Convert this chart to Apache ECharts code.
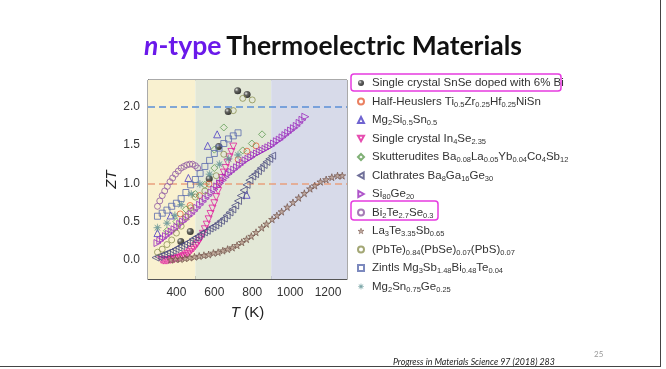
<!DOCTYPE html>
<html><head><meta charset="utf-8">
<script src="https://cdn.jsdelivr.net/npm/echarts@6/dist/echarts.min.js"></script>
<style>html,body{margin:0;padding:0;background:#fff}#c{width:666px;height:369px}</style>
</head><body><div id="c"></div>
<script>
// ---- data: [T (K), ZT] ----
const snseBi = [[423,0.24],[473,0.37],[573,1.06],[623,1.48],[673,1.94],[723,2.21],[773,2.16]];
const halfHeusler = [[420,0.6],[472,0.71],[522,0.84],[572,0.99],[726,1.31],[772,1.42],[820,1.49]];
const mg2si = [[300,0.35],[370,0.58],[463,1.07],[565,1.49],[615,1.64],[770,0.85]];
const in4se = [[320,0.0],[330,-0.01],[340,-0.01],[350,-0.01],[360,0.0],[370,0.0],[380,0.01],[390,0.01],[400,0.02],[410,0.02],[420,0.03],[430,0.04],[440,0.05],[450,0.07],[460,0.08],[470,0.1],[480,0.13],[490,0.15],[500,0.18],[510,0.21],[520,0.25],[530,0.29],[540,0.34],[550,0.4],[560,0.46],[570,0.53],[580,0.6],[590,0.67],[600,0.74],[610,0.82],[620,0.9],[630,0.99],[640,1.07],[650,1.14],[660,1.2],[670,1.27],[680,1.34],[690,1.41],[700,1.48]];
const skutterudite = [[350,0.38],[400,0.5],[450,0.66],[500,0.86],[550,0.98],[600,1.2],[600,1.44],[650,1.73],[750,1.43],[798,1.52],[852,1.64]];
const clathrate = [[290,0.03],[305,0.04],[320,0.06],[335,0.07],[350,0.09],[365,0.1],[380,0.12],[395,0.14],[410,0.16],[425,0.18],[440,0.2],[455,0.22],[470,0.24],[485,0.27],[500,0.29],[515,0.31],[530,0.34],[545,0.36],[560,0.38],[575,0.41],[590,0.43],[605,0.45],[620,0.48],[635,0.51],[650,0.54],[665,0.58],[680,0.62],[695,0.66],[710,0.71],[725,0.77],[740,0.84],[755,0.91],[770,0.98],[785,1.04],[800,1.09],[815,1.12],[830,1.16],[845,1.2],[860,1.24],[875,1.28],[890,1.32],[905,1.36]];
const siGe = [[300,0.22],[315,0.25],[330,0.28],[345,0.31],[360,0.34],[375,0.37],[390,0.4],[405,0.43],[420,0.47],[435,0.5],[450,0.53],[465,0.57],[480,0.6],[495,0.64],[510,0.68],[525,0.72],[540,0.76],[555,0.8],[570,0.84],[585,0.88],[600,0.92],[615,0.96],[630,1.0],[645,1.04],[660,1.08],[675,1.12],[690,1.15],[705,1.18],[720,1.21],[735,1.24],[750,1.27],[765,1.3],[780,1.32],[795,1.34],[810,1.37],[825,1.39],[840,1.41],[855,1.43],[870,1.45],[885,1.47],[900,1.49],[915,1.52],[930,1.55],[945,1.57],[960,1.6],[975,1.63],[990,1.66],[1005,1.69],[1020,1.72],[1035,1.75],[1050,1.79],[1065,1.83],[1080,1.87]];
const bi2te = [[300,0.7],[312,0.77],[325,0.84],[338,0.9],[352,0.96],[366,1.02],[380,1.07],[395,1.12],[410,1.16],[425,1.2],[440,1.22],[455,1.24],[470,1.25],[485,1.25],[500,1.23],[512,1.2]];
const la3te = [[370,0.0],[395,0.01],[420,0.01],[445,0.02],[470,0.03],[495,0.04],[520,0.05],[545,0.06],[570,0.07],[595,0.09],[620,0.1],[645,0.12],[670,0.14],[695,0.16],[720,0.19],[745,0.23],[770,0.27],[795,0.31],[820,0.36],[850,0.42],[875,0.47],[905,0.53],[930,0.58],[955,0.63],[985,0.69],[1015,0.75],[1045,0.81],[1075,0.87],[1105,0.93],[1130,0.97],[1160,1.02],[1190,1.05],[1220,1.08],[1250,1.1],[1275,1.1]];
const pbte = [[300,0.1],[325,0.14],[350,0.2],[375,0.26],[400,0.35],[425,0.44],[450,0.56],[475,0.68],[500,0.82],[550,0.9],[610,1.1],[650,1.38],[700,1.95],[750,2.11],[800,2.09]];
const zintl = [[300,0.57],[325,0.61],[350,0.65],[375,0.7],[400,0.74],[425,0.8],[450,0.88],[475,0.98],[500,1.05],[525,1.13],[550,1.22],[575,1.3],[600,1.39],[625,1.46],[650,1.52],[675,1.58],[700,1.62],[725,1.66]];
const mg2sn = [[300,0.42],[350,0.48],[392,0.58],[425,0.72],[478,0.86],[524,0.99],[575,1.12],[627,1.25],[675,1.32],[725,1.37]];
const refLines = [2.0, 1.0];
const xTickLabels = [400, 600, 800, 1000, 1200];
const yTickLabels = [0.0, 0.5, 1.0, 1.5, 2.0];

const STAR = 'path://M50,0L61,35L98,35L68,57L79,91L50,70L21,91L32,57L2,35L39,35Z';
const AST = 'path://M10,5L6.2,5.5L8.54,8.54L5.5,6.2L5,10L4.5,6.2L1.46,8.54L3.8,5.5L0,5L3.8,4.5L1.46,1.46L4.5,3.8L5,0L5.5,3.8L8.54,1.46L6.2,4.5Z';
const TRI_DOWN = 'path://M0,0L10,0L5,9Z';
const TRI_LEFT = 'path://M9,0L9,10L0,5Z';
const TRI_RIGHT = 'path://M0,0L0,10L9,5Z';

const legendNames = [
  'Single crystal SnSe doped with 6% Bi',
  'Half-Heuslers Ti{s|0.5}Zr{s|0.25}Hf{s|0.25}NiSn',
  'Mg{s|2}Si{s|0.5}Sn{s|0.5}',
  'Single crystal In{s|4}Se{s|2.35}',
  'Skutterudites Ba{s|0.08}La{s|0.05}Yb{s|0.04}Co{s|4}Sb{s|12}',
  'Clathrates Ba{s|8}Ga{s|16}Ge{s|30}',
  'Si{s|80}Ge{s|20}',
  'Bi{s|2}Te{s|2.7}Se{s|0.3}',
  'La{s|3}Te{s|3.35}Sb{s|0.65}',
  '(PbTe){s|0.84}(PbSe){s|0.07}(PbS){s|0.07}',
  'Zintls Mg{s|3}Sb{s|1.48}Bi{s|0.48}Te{s|0.04}',
  'Mg{s|2}Sn{s|0.75}Ge{s|0.25}'
];
const names = legendNames.map((n,i)=>'s'+i);

function open(color, symbol, size){
  return {type:'scatter', symbol:symbol, symbolSize:size||6,
    itemStyle:{color:'rgba(255,255,255,0)', borderColor:color, borderWidth:1}};
}
const defs = [
  {d:snseBi, s:{type:'scatter', symbol:'circle', symbolSize:7, itemStyle:{color:{type:'radial',x:0.35,y:0.35,r:0.75,colorStops:[{offset:0,color:'#e8e8e8'},{offset:0.35,color:'#444'},{offset:1,color:'#000'}]}}}},
  {d:halfHeusler, s:open('#e5603a','circle',6)},
  {d:mg2si, s:open('#4b3cc4','triangle',7)},
  {d:in4se, s:open('#e0209c',TRI_DOWN,7)},
  {d:skutterudite, s:open('#5f9c52','diamond',7)},
  {d:clathrate, s:open('#4c4c80',TRI_LEFT,7)},
  {d:siGe, s:open('#9b2bbd',TRI_RIGHT,7)},
  {d:bi2te, s:open('#8f5aa3','circle',6)},
  {d:la3te, s:{type:'scatter', symbol:STAR, symbolSize:7, itemStyle:{color:'#b79a8c', borderColor:'#6b4a40', borderWidth:0.8}}},
  {d:pbte, s:open('#8c9152','circle',6)},
  {d:zintl, s:open('#5b6cae','rect',6)},
  {d:mg2sn, s:{type:'scatter', symbol:AST, symbolSize:8, itemStyle:{color:'#5a8f92', borderColor:'#5a8f92', borderWidth:0.4}}}
];

const series = defs.map((o,i)=>Object.assign({name:names[i], data:o.d, z:3}, o.s));
series.push({type:'scatter', name:'bg', data:[], silent:true,
  markArea:{silent:true, z:1, data:[
    [{xAxis:250, itemStyle:{color:'#f9f1d0'}},{xAxis:500}],
    [{xAxis:500, itemStyle:{color:'#e3e8d7'}},{xAxis:900}],
    [{xAxis:900, itemStyle:{color:'#d7dae9'}},{xAxis:1300}]
  ]},
  markLine:{silent:true, symbol:'none', label:{show:false}, z:2, data:[
    {yAxis:refLines[0], lineStyle:{color:'#5b8fd6', type:[7,4], width:1.6}},
    {yAxis:refLines[1], lineStyle:{color:'#e9a07e', type:[7,4], width:1.6}}
  ]}
});

const legendData = names.map((n,i)=>{
  if (i===8) return {name:n, icon:STAR, itemStyle:{color:'#b79a8c', borderColor:'#6b4a40', borderWidth:0.6}};
  if (i===11) return {name:n, icon:AST, itemStyle:{color:'#5a8f92', borderColor:'#5a8f92', borderWidth:0.3}};
  return {name:n};
});

const chart = echarts.init(document.getElementById('c'));
chart.setOption({
  animation:false,
  backgroundColor:'#fff',
  textStyle:{fontFamily:'Liberation Sans, Arial, sans-serif'},
  title:{
    text:'{i|n}{p|-type} {b|Thermoelectric Materials}',
    left:'center', top:28,
    textStyle:{rich:{
      i:{fontFamily:'Lato', fontSize:26.5, fontWeight:'bold', fontStyle:'italic', color:'#6a19ea'},
      p:{fontFamily:'Lato', fontSize:26.5, fontWeight:'bold', color:'#6a19ea'},
      b:{fontFamily:'Lato', fontSize:26.5, fontWeight:'bold', color:'#111'}
    }}
  },
  legend:{
    orient:'vertical', left:352, top:71, itemWidth:6, itemHeight:6, itemGap:4.5,
    data:legendData,
    formatter:(n)=>legendNames[names.indexOf(n)],
    textStyle:{fontSize:11.5, color:'#333', lineHeight:14, padding:[0,0,0,3],
      rich:{s:{fontSize:7.5, lineHeight:8, verticalAlign:'bottom', color:'#333'}}}
  },
  grid:{left:148, top:80, width:199, height:199, show:true, borderColor:'#555', borderWidth:1, backgroundColor:'transparent'},
  xAxis:{type:'value', min:250, max:1300, splitNumber:10,
    name:'{i|T} (K)', nameLocation:'middle', nameGap:26,
    nameTextStyle:{fontSize:15, color:'#222', rich:{i:{fontSize:15, fontStyle:'italic', color:'#222'}}},
    axisLine:{show:true, onZero:false, lineStyle:{color:'#555'}},
    axisTick:{show:true, inside:true, length:3, lineStyle:{color:'#555'}},
    axisLabel:{color:'#333', fontSize:12, margin:8, showMinLabel:false, showMaxLabel:false,
      formatter:(v)=> xTickLabels.indexOf(Math.round(v))>=0 ? String(Math.round(v)) : ''},
    splitLine:{show:false}},
  yAxis:{type:'value', min:-0.25, max:2.35, interval:0.25,
    name:'ZT', nameLocation:'middle', nameGap:24, nameRotate:90,
    nameTextStyle:{fontSize:15, fontStyle:'italic', color:'#222'},
    axisLine:{show:true, onZero:false, lineStyle:{color:'#555'}},
    axisTick:{show:true, inside:true, length:3, lineStyle:{color:'#555'}},
    axisLabel:{color:'#333', fontSize:12, margin:8, showMaxLabel:false,
      formatter:(v)=>{ const r=Math.round(v*10)/10; return yTickLabels.some(t=>Math.abs(t-v)<1e-6) ? r.toFixed(1) : ''; }},
    splitLine:{show:false}},
  graphic:[
    {type:'rect', shape:{x:351,y:74,width:210,height:17,r:3}, style:{fill:'none', stroke:'#e63be0', lineWidth:1.5}, z:10},
    {type:'rect', shape:{x:351,y:201,width:87,height:19,r:3}, style:{fill:'none', stroke:'#e63be0', lineWidth:1.5}, z:10},
    {type:'text', x:393, y:362, style:{text:'Progress in Materials Science 97 (2018) 283', font:'italic 8.8px Lato, sans-serif', fill:'#222', textVerticalAlign:'middle'}},
    {type:'text', x:594, y:354, style:{text:'25', font:'8px Lato, sans-serif', fill:'#999', textVerticalAlign:'middle'}},
    {type:'line', shape:{x1:0,y1:366.5,x2:660,y2:366.5}, style:{stroke:'#444', lineWidth:1}},
    {type:'line', shape:{x1:660.5,y1:0,x2:660.5,y2:367}, style:{stroke:'#444', lineWidth:1}}
  ],
  series:series
});
</script></body></html>
